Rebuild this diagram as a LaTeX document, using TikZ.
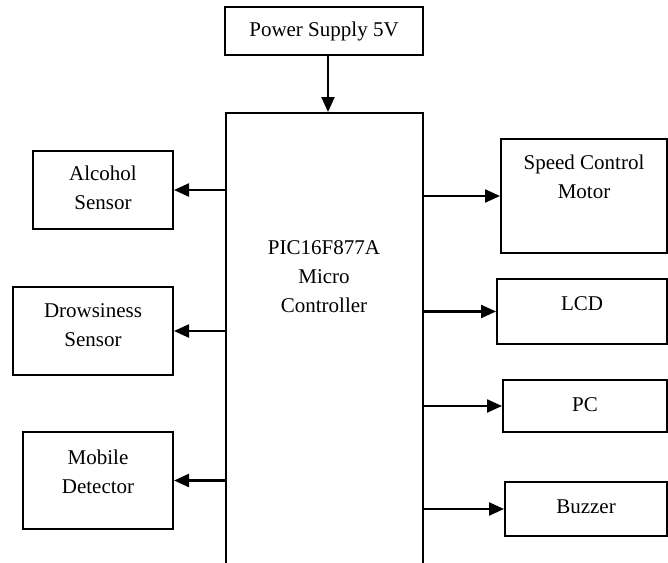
\documentclass[tikz,border=0pt]{standalone}
\usepackage{fontspec}
\setmainfont{Liberation Serif}
\usetikzlibrary{arrows.meta,calc}
\begin{document}
\begin{tikzpicture}[x=1pt,y=-1pt,
  font=\fontsize{21}{29}\selectfont,
  box/.style={draw=black, line width=2pt, rectangle, inner sep=0pt},
  lbl/.style={align=center, inner sep=0pt},
  arr/.style={line width=2.3pt, -{Triangle[length=15pt,width=13pt]}}]
\useasboundingbox (0,0) rectangle (668,562);
% power supply
\node[box, minimum width=198pt, minimum height=48pt] (pow) at (324,31) {Power Supply 5V};
% micro controller (open bottom, extends past page)
\node[box, minimum width=197pt, minimum height=480pt] (mc) at (324.5,353) {};
\node[lbl] (mctext) at (324,277) {PIC16F877A\\Micro\\Controller};
% left boxes
\node[box, minimum width=140pt, minimum height=78pt, label={[lbl,yshift=2pt]center:Alcohol\\Sensor}] (alc) at (103,190) {};
\node[box, minimum width=160pt, minimum height=88pt, label={[lbl,yshift=6pt]center:Drowsiness\\Sensor}] (drw) at (93,331) {};
\node[box, minimum width=150pt, minimum height=97pt, label={[lbl,yshift=9pt]center:Mobile\\Detector}] (mob) at (98,480.5) {};
% right boxes
\node[box, minimum width=166pt, minimum height=114pt, label={[lbl,yshift=19pt]center:Speed Control\\Motor}] (spd) at (584,196) {};
\node[box, minimum width=170pt, minimum height=65pt, label={[lbl,yshift=8pt]center:LCD}] (lcd) at (582,311.5) {};
\node[box, minimum width=164pt, minimum height=52pt, label={[lbl,yshift=1pt]center:PC}] (pc) at (585,406) {};
\node[box, minimum width=162pt, minimum height=54pt, label={[lbl,yshift=2pt]center:Buzzer}] (buz) at (586,509) {};
% connectors
\draw[arr] ([xshift=4pt]pow.south) -- ([xshift=4pt]pow.south |- mc.north);
\draw[arr] (mc.west |- alc.east) -- (alc.east);
\draw[arr] (mc.west |- drw.east) -- (drw.east);
\draw[arr] (mc.west |- mob.east) -- (mob.east);
\draw[arr] (mc.east |- spd.west) -- (spd.west);
\draw[arr] (mc.east |- lcd.west) -- (lcd.west);
\draw[arr] (mc.east |- pc.west) -- (pc.west);
\draw[arr] (mc.east |- buz.west) -- (buz.west);
\end{tikzpicture}
\end{document}
